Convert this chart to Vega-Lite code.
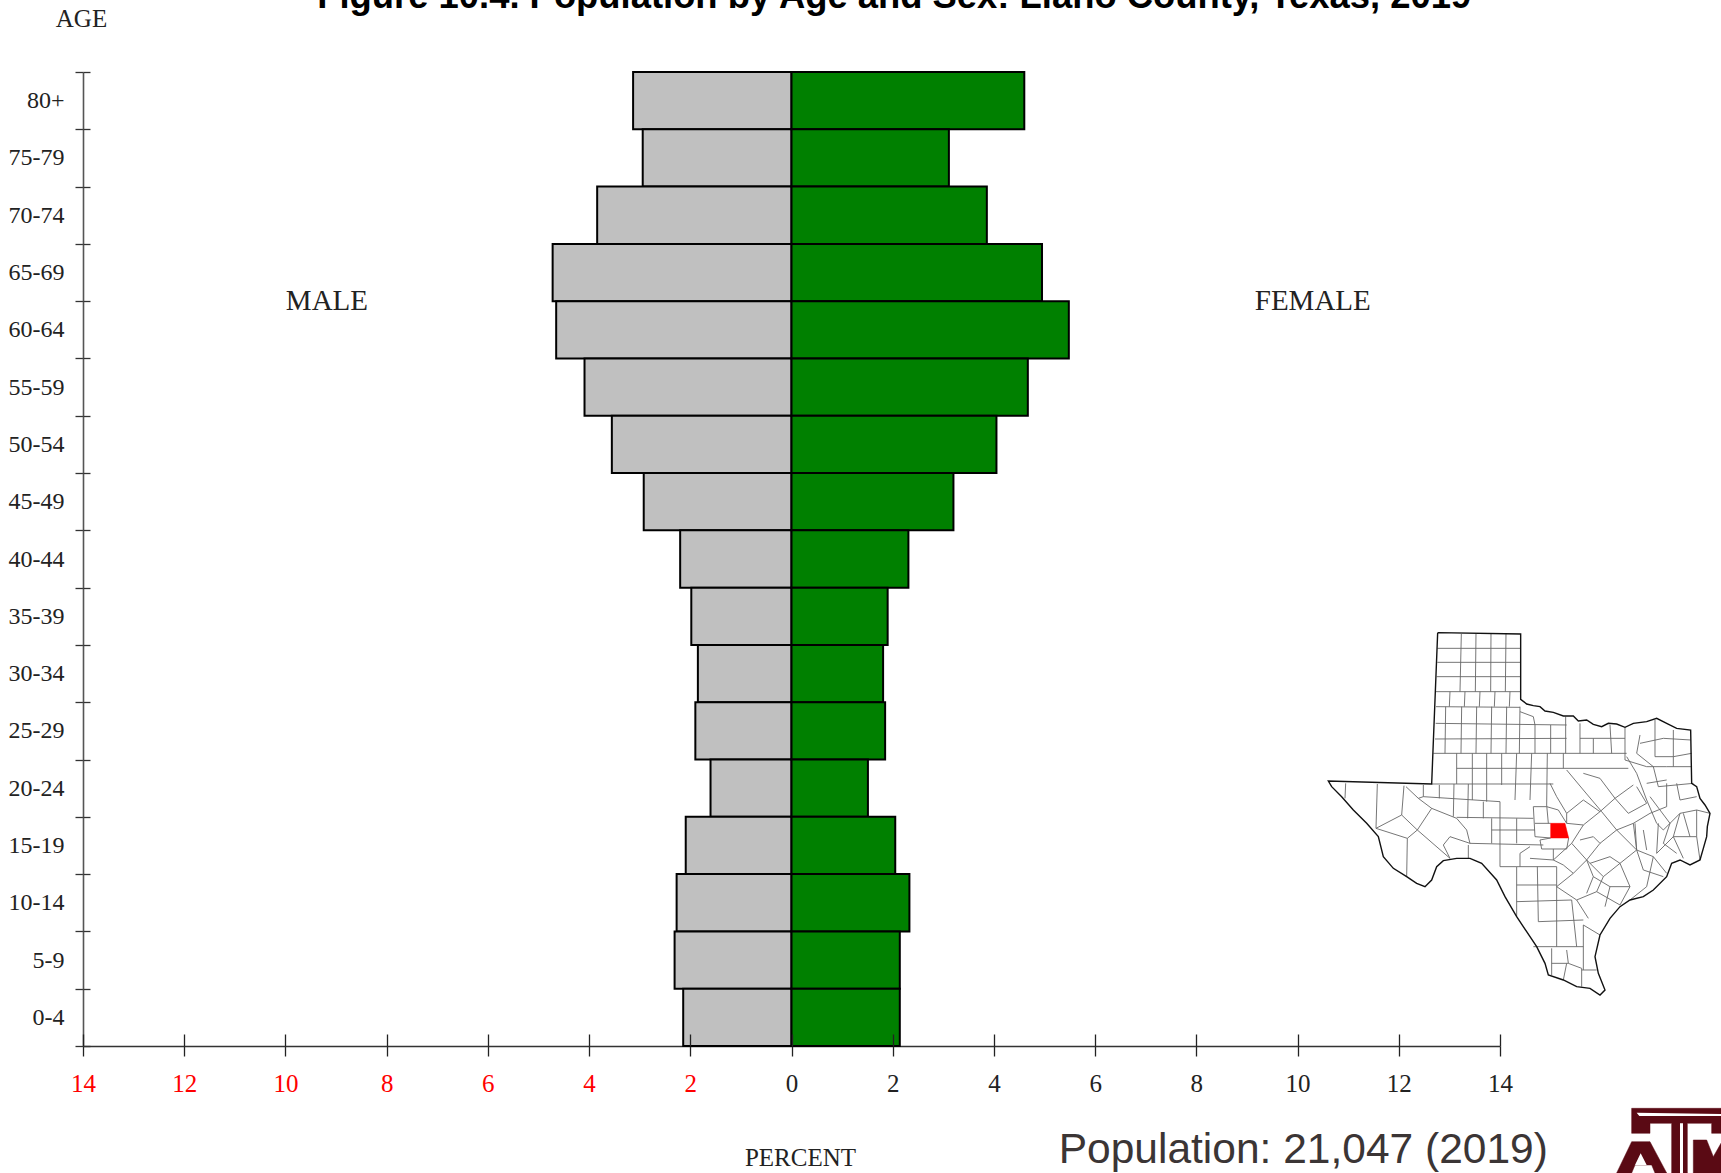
{"$schema":"https://vega.github.io/schema/vega-lite/v6.json","autosize":"none","width":1417,"height":974,"padding":{"left":83,"top":72,"right":221,"bottom":127},"background":"white","datasets":{"pyramid":[{"age":"80+","sex":"Male","pct":-3.13},{"age":"75-79","sex":"Male","pct":-2.94},{"age":"70-74","sex":"Male","pct":-3.84},{"age":"65-69","sex":"Male","pct":-4.72},{"age":"60-64","sex":"Male","pct":-4.65},{"age":"55-59","sex":"Male","pct":-4.09},{"age":"50-54","sex":"Male","pct":-3.55},{"age":"45-49","sex":"Male","pct":-2.92},{"age":"40-44","sex":"Male","pct":-2.2},{"age":"35-39","sex":"Male","pct":-1.98},{"age":"30-34","sex":"Male","pct":-1.85},{"age":"25-29","sex":"Male","pct":-1.9},{"age":"20-24","sex":"Male","pct":-1.6},{"age":"15-19","sex":"Male","pct":-2.09},{"age":"10-14","sex":"Male","pct":-2.27},{"age":"5-9","sex":"Male","pct":-2.31},{"age":"0-4","sex":"Male","pct":-2.14},{"age":"80+","sex":"Female","pct":4.6},{"age":"75-79","sex":"Female","pct":3.11},{"age":"70-74","sex":"Female","pct":3.86},{"age":"65-69","sex":"Female","pct":4.95},{"age":"60-64","sex":"Female","pct":5.48},{"age":"55-59","sex":"Female","pct":4.67},{"age":"50-54","sex":"Female","pct":4.05},{"age":"45-49","sex":"Female","pct":3.2},{"age":"40-44","sex":"Female","pct":2.31},{"age":"35-39","sex":"Female","pct":1.9},{"age":"30-34","sex":"Female","pct":1.81},{"age":"25-29","sex":"Female","pct":1.85},{"age":"20-24","sex":"Female","pct":1.51},{"age":"15-19","sex":"Female","pct":2.05},{"age":"10-14","sex":"Female","pct":2.33},{"age":"5-9","sex":"Female","pct":2.14},{"age":"0-4","sex":"Female","pct":2.14}]},"layer":[{"data":{"name":"pyramid"},"mark":{"type":"bar","stroke":"black","strokeWidth":2,"opacity":1},"encoding":{"x":{"field":"pct","type":"quantitative","scale":{"domain":[-14,14],"nice":false,"zero":false},"axis":{"orient":"bottom","values":[-14,-12,-10,-8,-6,-4,-2,0,2,4,6,8,10,12,14],"grid":false,"tickSize":10,"tickColor":"#222","domainColor":"#333","domainWidth":1.6,"tickWidth":1.3,"labelExpr":"abs(datum.value)","labelColor":{"expr":"datum.value<0?'#ff0000':'#222222'"},"labelFont":"Liberation Serif","labelFontSize":25,"labelPadding":15,"labelFlush":false,"labelOverlap":false,"title":"PERCENT","titleFont":"Liberation Serif","titleFontSize":25,"titleFontWeight":"normal","titleColor":"#222","titleX":717,"titleY":111,"titleAlign":"center","titleBaseline":"middle"}},"y":{"field":"age","type":"nominal","sort":["80+","75-79","70-74","65-69","60-64","55-59","50-54","45-49","40-44","35-39","30-34","25-29","20-24","15-19","10-14","5-9","0-4"],"scale":{"paddingInner":0,"paddingOuter":0},"axis":{"orient":"left","tickBand":"extent","grid":false,"tickSize":8,"tickColor":"#333","domainColor":"#555","domainWidth":1.6,"tickWidth":1.3,"labelColor":"#222","labelFont":"Liberation Serif","labelFontSize":24,"labelPadding":11,"labelAngle":0,"labelOverlap":false,"title":"AGE","titleFont":"Liberation Serif","titleFontSize":25,"titleFontWeight":"normal","titleColor":"#222","titleAngle":0,"titleX":-2,"titleY":-54,"titleAlign":"center","titleBaseline":"middle"}},"color":{"field":"sex","type":"nominal","scale":{"domain":["Male","Female"],"range":["#c0c0c0","#008000"]},"legend":null}}},{"data":{"values":[{"label":"MALE","pct":-9.18,"age":"60-64"},{"label":"FEMALE","pct":10.3,"age":"60-64"}]},"mark":{"type":"text","font":"Liberation Serif","fontSize":29,"color":"#222","align":"center","baseline":"middle"},"encoding":{"text":{"field":"label"},"x":{"field":"pct","type":"quantitative","axis":{"orient":"top","offset":-974,"values":[-14,-12,-10,-8,-6,-4,-2,0,2,4,6,8,10,12,14],"grid":false,"domain":false,"labels":false,"title":null,"tickSize":12,"tickColor":"#222","tickWidth":1.3,"zindex":1}},"y":{"field":"age","type":"nominal","bandPosition":0,"sort":["80+","75-79","70-74","65-69","60-64","55-59","50-54","45-49","40-44","35-39","30-34","25-29","20-24","15-19","10-14","5-9","0-4"],"axis":{"orient":"right","offset":-1417,"tickBand":"extent","grid":false,"domain":false,"labels":false,"title":null,"tickSize":7,"tickColor":"#333","tickWidth":1.3}}}},{"data":{"values":[{"label":"Figure 10.4. Population by Age and Sex: Llano County, Texas, 2019","pct":2.03,"age":"80+"}]},"mark":{"type":"text","font":"Liberation Sans","fontSize":36.4,"fontWeight":"bold","color":"black","align":"center","baseline":"alphabetic","dy":-64},"encoding":{"text":{"field":"label"},"x":{"field":"pct","type":"quantitative","axis":null},"y":{"field":"age","type":"nominal","bandPosition":0,"axis":null,"sort":["80+","75-79","70-74","65-69","60-64","55-59","50-54","45-49","40-44","35-39","30-34","25-29","20-24","15-19","10-14","5-9","0-4"]}}},{"data":{"values":[{"label":"Population: 21,047 (2019)","pct":5.28,"age":"0-4"}]},"mark":{"type":"text","font":"Liberation Sans","fontSize":42.5,"color":"#3b3535","align":"left","baseline":"middle","dy":133},"encoding":{"text":{"field":"label"},"x":{"field":"pct","type":"quantitative","axis":null},"y":{"field":"age","type":"nominal","axis":null,"sort":["80+","75-79","70-74","65-69","60-64","55-59","50-54","45-49","40-44","35-39","30-34","25-29","20-24","15-19","10-14","5-9","0-4"]}}},{"data":{"values":[{"type":"Feature","properties":{"name":"counties"},"geometry":{"type":"MultiLineString","coordinates":[[[412,115],[662,115]],[[412,157],[662,157]],[[410,200],[662,200]],[[408,245],[662,245]],[[484,72],[480,245]],[[528,72],[526,245]],[[573,72],[572,245]],[[618,72],[616,245]],[[450,245],[448,290]],[[495,245],[493,290]],[[540,245],[538,290]],[[585,245],[583,290]],[[630,245],[628,290]],[[408,290],[660,292]],[[660,305],[700,320],[705,345]],[[407,340],[800,345]],[[405,387],[800,385]],[[400,430],[980,430]],[[470,475],[985,475]],[[395,522],[760,522]],[[437,290],[435,430]],[[485,290],[483,430]],[[530,290],[528,430]],[[575,290],[573,430]],[[620,290],[618,430]],[[660,290],[658,430]],[[705,345],[705,430]],[[752,345],[752,430]],[[797,320],[797,430]],[[470,430],[470,522]],[[517,430],[517,570]],[[560,430],[560,575]],[[605,430],[605,525]],[[650,430],[645,570]],[[695,430],[690,570]],[[742,430],[740,585]],[[790,430],[790,475]],[[840,340],[840,430]],[[880,385],[880,430]],[[930,345],[935,430]],[[840,385],[975,385]],[[975,352],[975,450],[1040,470],[1100,470],[1175,470]],[[1020,375],[1010,430],[1060,470],[1075,530],[1180,520]],[[1065,330],[1065,440],[1120,440],[1175,430]],[[1120,360],[1120,470]],[[1130,520],[1140,570],[1190,560]],[[1020,400],[1090,385],[1172,390]],[[137,520],[135,565]],[[232,522],[228,655]],[[312,527],[305,615],[228,655]],[[305,615],[352,660],[322,685],[228,655]],[[322,685],[320,800]],[[352,660],[395,595]],[[352,660],[450,745]],[[318,530],[355,565],[370,560]],[[370,525],[370,560],[600,575]],[[355,565],[395,595],[470,625],[500,660],[510,700],[450,680],[430,705],[450,745]],[[510,700],[730,705]],[[418,525],[418,565]],[[462,522],[460,620]],[[505,522],[503,625]],[[550,575],[550,625]],[[470,622],[700,625]],[[575,625],[575,700]],[[575,660],[705,660]],[[650,625],[650,700]],[[505,705],[505,745]],[[600,575],[600,770]],[[600,770],[650,770]],[[650,770],[650,920]],[[650,770],[770,770]],[[650,825],[770,825]],[[712,770],[715,935]],[[650,875],[815,870]],[[715,935],[850,930]],[[770,770],[770,1010]],[[705,640],[752,640]],[[740,585],[745,640]],[[740,590],[775,600],[800,640]],[[700,590],[740,590]],[[700,590],[705,680],[752,684]],[[752,684],[720,690],[725,717],[800,717],[806,684]],[[690,710],[660,730],[660,770]],[[690,745],[760,750]],[[760,717],[760,750]],[[750,520],[770,560],[800,610],[850,570],[900,605],[945,565],[1000,525]],[[800,480],[850,540],[905,605],[950,660],[1000,640],[1050,610],[1100,590]],[[850,490],[900,505],[945,565],[985,610],[1040,580],[1010,530]],[[980,440],[1010,490],[1040,570],[1070,640],[1090,660],[1140,610],[1190,600],[1230,610]],[[900,605],[850,645],[815,700],[860,750],[900,700],[950,660],[980,690],[1010,720],[1005,640]],[[815,700],[760,750],[790,765],[820,790],[860,750],[910,800],[960,760],[1010,720],[1060,740],[1100,790]],[[820,790],[770,830],[830,870],[865,925]],[[830,870],[890,845],[960,885]],[[910,800],[890,845]],[[960,760],[990,830],[960,885]],[[1060,740],[1040,830],[990,870]],[[1075,640],[1070,730],[1120,680],[1190,680],[1190,600]],[[1140,610],[1120,680],[1150,745]],[[800,610],[800,640],[850,645]],[[840,690],[880,680],[900,700]],[[870,760],[930,740],[960,760]],[[1000,640],[1010,720]],[[1100,590],[1100,520]],[[1040,520],[1100,510]],[[1030,660],[1040,720]],[[1050,560],[1110,640],[1090,700],[1130,730]],[[1190,680],[1200,750]],[[1150,610],[1170,680]],[[1010,720],[1030,780],[1090,800]],[[880,800],[930,830],[990,830]],[[860,750],[880,800],[860,850]],[[930,830],[915,890]],[[700,1010],[850,1010]],[[755,1015],[755,1095]],[[800,1020],[805,1060],[845,1075],[845,1130]],[[755,1060],[805,1060]],[[845,1080],[890,1080]],[[850,945],[850,1080]],[[850,945],[900,975]],[[815,870],[830,1010]],[[800,1060],[790,1110]]]}}]},"mark":{"type":"geoshape","clip":false,"fill":null,"filled":false,"stroke":"#666666","strokeWidth":0.9},"projection":{"type":"identity","scale":0.33333,"translate":[1217,538]}},{"data":{"values":[{"type":"Feature","properties":{"name":"Llano"},"geometry":{"type":"Polygon","coordinates":[[[752,640],[795,640],[800,660],[806,684],[752,684],[752,640]]]}}]},"mark":{"type":"geoshape","clip":false,"fill":"#ff0000","stroke":"#ff0000","strokeWidth":0.5},"projection":{"type":"identity","scale":0.33333,"translate":[1217,538]}},{"data":{"values":[{"type":"Feature","properties":{"name":"Texas"},"geometry":{"type":"LineString","coordinates":[[413,68],[662,72],[662,268],[680,282],[700,287],[720,290],[735,303],[760,307],[790,318],[820,318],[835,333],[860,330],[880,343],[905,350],[925,340],[950,342],[975,352],[1000,340],[1040,335],[1070,325],[1100,340],[1130,355],[1172,360],[1175,520],[1190,530],[1200,565],[1215,585],[1230,610],[1222,650],[1220,680],[1210,715],[1200,750],[1170,765],[1140,750],[1115,760],[1100,800],[1060,840],[1030,860],[990,870],[960,890],[930,925],[900,975],[885,1040],[895,1090],[915,1140],[900,1155],[870,1135],[830,1130],[790,1110],[745,1095],[735,1060],[710,1010],[680,965],[650,920],[615,860],[590,810],[545,760],[510,745],[470,745],[430,752],[410,770],[395,810],[375,830],[350,820],[320,800],[280,775],[250,740],[235,680],[200,640],[160,600],[125,560],[95,530],[85,513],[395,522],[413,68]]}}]},"mark":{"type":"geoshape","clip":false,"fill":null,"filled":false,"stroke":"#111111","strokeWidth":1.4},"projection":{"type":"identity","scale":0.33333,"translate":[1217,538]}},{"data":{"values":[{"type":"Feature","properties":{"name":"logo"},"geometry":{"type":"MultiPolygon","coordinates":[[[[995,1495],[1263,1495],[1263,1570],[1235,1570],[1235,1540],[1162,1540],[1162,1689],[1115,1689],[1115,1540],[1050,1540],[1050,1570],[995,1570],[995,1495]]],[[[995,1595],[1050,1595],[1100,1689],[1065,1689],[1055,1665],[1005,1665],[995,1689],[950,1689],[995,1595]]],[[[1180,1590],[1220,1590],[1240,1640],[1263,1600],[1263,1689],[1180,1689],[1180,1590]]]]}}]},"mark":{"type":"geoshape","clip":false,"fill":"#5a0a14","stroke":"#5a0a14","strokeWidth":0.5},"projection":{"type":"identity","scale":0.33333,"translate":[1217,538]}},{"data":{"values":[{"type":"Feature","properties":{"name":"logo highlights"},"geometry":{"type":"MultiPolygon","coordinates":[[[[1010,1508],[1263,1512],[1263,1518],[1018,1518],[1010,1508]]],[[[1140,1540],[1149,1540],[1149,1689],[1140,1689],[1140,1540]]],[[[1022,1630],[1040,1665],[1005,1665],[1022,1630]]]]}}]},"mark":{"type":"geoshape","clip":false,"fill":"#ffffff","stroke":null},"projection":{"type":"identity","scale":0.33333,"translate":[1217,538]}}],"resolve":{"axis":{"x":"independent","y":"independent"}},"config":{"view":{"stroke":null}}}
